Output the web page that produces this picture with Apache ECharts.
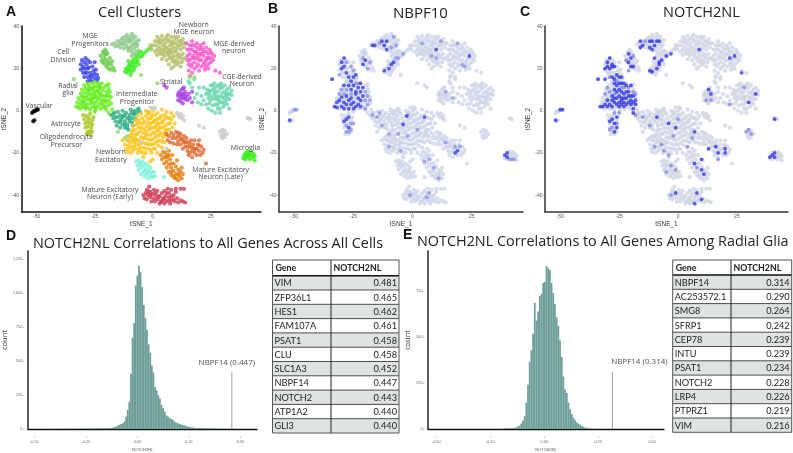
<!DOCTYPE html>
<html><head><meta charset="utf-8">
<style>html,body{margin:0;padding:0;background:#fff}#c{width:793px;height:453px}</style>
<script src="https://cdn.jsdelivr.net/npm/echarts@6/dist/echarts.min.js"></script></head>
<body><div id="c"></div>
<script>
const mgeProgenitorA=[[-17.5,31.5],[-16.5,32],[-16,30.5],[-15,31],[-15,33],[-14,32],[-14,30],[-13.5,33.5],[-13,31.5],[-12.5,29.5],[-12,33],[-12,35],[-11.5,31],[-11,34],[-11,36],[-10.5,32.5],[-10,30],[-10,35],[-9.5,33],[-9,36.5],[-9,31],[-9,28],[-8.5,34],[-8,32],[-8,29.5],[-7.5,35],[-7,33],[-7,30.5],[-6.5,31.5],[-6,28.5],[-10.5,28.5],[-8,27],[-13,34.5],[-9.5,29.5],[-6,33.5],[-11,30],[-12.5,32],[-8.5,35.5],[-7.5,31.5],[-10,33.5],[-9,26],[-7,28]];
const mgeProgenitorB=[[-22.5,26],[-22,24],[-21.5,28],[-21,25],[-21,22.5],[-20.5,29],[-20.5,26.5],[-20,24],[-20,21],[-19.5,27],[-19,23],[-19,20],[-18.5,25],[-18,22],[-18,19.5],[-17,20.5],[-17.5,23.5],[-16.5,19],[-21.5,23],[-20,28],[-19.5,22],[-21,27]];
const mgeStream=[[-12,18.5],[-11.5,20],[-11,18],[-10.5,21],[-10,19],[-10,22],[-9.5,20],[-9,18.5],[-9,23],[-8.5,21],[-8.5,24],[-8,19.5],[-8,22.5],[-7.5,25],[-7,23],[-7,26],[-6.5,24],[-6,27],[-5.5,25.5],[-5,28],[-4.5,26],[-4,27],[-3,28],[-2,29],[-1,30],[-9.5,17],[-10.5,23.5],[-6,22],[-11,19.5],[-9.5,21.5],[-7.5,21]];
const newbornMge=[[1,33],[1.5,31],[2,35],[2,29],[3,34],[3,32],[3,30],[3.5,27],[4,35.5],[4,33],[4,29],[4.5,31],[5,34],[5,26],[5,28.5],[5.5,32],[6,30],[6,35],[6,24],[6.5,27],[7,33],[7,29],[7,22],[7.5,31],[7.5,25],[8,35],[8,27.5],[8.5,33],[8.5,23.5],[9,30],[9,26],[9,21],[9.5,28],[10,34],[10,32],[10,24],[10.5,30],[10.5,22],[11,27],[11,35],[11.5,33],[11.5,25],[12,29],[12,31],[12.5,23],[13,27],[13,34],[13.5,30],[0,31],[-0.5,29],[-1,31],[1,28],[2,26.5],[4,24.5],[14,25],[14,32],[8,20],[6.5,36],[12,21],[2.5,33],[3,28],[4.5,27],[5.5,30],[6,28],[6.5,33.5],[7,26],[7.5,28],[8,31.5],[8,29],[8.5,25],[9,32],[9.5,23],[9.5,35],[10,28.5],[10.5,26],[11,31],[11,23],[12,33],[12,26],[13,24.5],[13,32]];
const mgeNeuron=[[14.5,32],[15,29],[15,26],[15.5,22],[15.5,19],[16,31],[16,27],[16,24],[16.5,21],[17,33],[17,29],[17,18],[17.5,26],[18,31],[18,23],[18,20],[18.5,28],[19,25],[19,32],[19.5,22],[20,29],[20,19],[20.5,27],[20.5,31],[21,24],[21,21],[21.5,29],[22,26],[22,32],[22.5,23],[22.5,19.5],[23,28],[23,30],[23.5,25],[24,22],[24,27],[24.5,29],[25,25],[25,23],[25.5,27],[26,24],[26.5,26],[21,27],[19,27],[17,22],[24,20],[27,19],[29,18],[16,16.5],[15,24],[16,29],[17,25],[17,31],[18,28],[18,25],[19,30],[19,21],[20,24],[20,26],[21,30],[22,28],[22,22],[23,24],[23,21],[24,25],[25,28]];
const cellDivision=[[-31,22],[-31,19.5],[-30.5,24],[-30,21],[-30,18],[-29.5,23],[-29.5,16],[-29,25],[-29,20],[-28.5,22],[-28.5,18],[-28,24],[-28,16],[-27.5,20.5],[-27,23],[-27,18],[-27,14.5],[-26.5,16],[-26,21],[-26,17],[-26,14],[-25.5,19],[-25,15.5],[-25,23],[-24,17],[-24,14.5],[-23.5,15.5],[-28,14],[-24.5,19.5],[-30,20],[-29,18],[-28,20],[-27,16.5],[-25,17.5]];
const radialGlia=[[-33,2],[-32.5,4],[-32,1.5],[-32,6],[-31.5,3],[-31,8],[-31,5],[-31,1],[-30.5,10],[-30.5,3.5],[-30,6.5],[-30,2],[-29.5,12],[-29.5,8.5],[-29.5,4.5],[-29,1],[-29,10.5],[-28.5,7],[-28.5,3],[-28,13],[-28,5.5],[-28,1.5],[-27.5,9.5],[-27.5,12],[-27,7.5],[-27,3.5],[-27,0.5],[-26.5,10.5],[-26.5,5],[-26,13],[-26,8],[-26,2],[-25.5,11],[-25.5,6],[-25,13.5],[-25,3.5],[-25,9],[-24.5,0.5],[-24.5,7],[-24,11.5],[-24,4.5],[-24,2],[-23.5,9],[-23.5,13],[-23,6],[-23,3],[-22.5,11],[-22.5,1],[-22.5,8],[-22,13],[-22,5],[-21.5,9.5],[-21.5,3],[-21,7],[-21,11],[-20.5,5],[-20.5,2],[-20,9],[-20,12],[-19.5,7],[-19,5],[-19,2.5],[-18.5,9],[-19,12.5],[-18,3.5],[-18,6.5],[-20,0.5],[-17.5,0.5],[-28,8.5],[-25,-0.5],[-30.5,7],[-30,4],[-29,6],[-29,2.5],[-28,10],[-27,5.5],[-27,11],[-26,6],[-26,10],[-26,4],[-25,7.5],[-25,11.5],[-25,1.5],[-24,9.5],[-24,6],[-23,10.5],[-23,12],[-23,8],[-22,7],[-22,3.5],[-21,5],[-21,1.5],[-20,7],[-20,4],[-19,10.5],[-19,7.5]];
const astrocyte=[[-30,-2],[-29.5,-4],[-29,-6],[-28.5,-2.5],[-28,-5],[-28,-7.5],[-27.5,-3.5],[-27,-6],[-27,-1.5],[-26.5,-8],[-26,-4.5],[-26,-6.5],[-25.5,-3],[-29,-8],[-28,-10],[-27,-9.5],[-28.5,-11],[-27,-11],[-26,-10]];
const vascular=[[-52,-1],[-51.5,-0.5],[-51,0],[-50.5,0],[-50,0.5],[-49.5,0.5],[-51,-4.5],[-51.5,-5]];
const striatal=[[11,5],[11,7],[11.5,9],[12,6],[12,4.5],[12.5,8],[12.5,10],[13,6],[13,3.5],[13.5,8],[13.5,11],[14,5.5],[14,9],[14.5,7],[15,5],[15.5,8],[16,6],[11,8],[17,9],[17,4],[13,10.5],[5,12],[6,11],[12,7.5],[13,7.5],[14,6.5]];
const cgeNeuron=[[22,5],[23,8],[23,3],[23.5,10],[24,6],[24,1],[24.5,9],[24.5,3.5],[25,12],[25,7],[25,5],[25.5,0],[26,10],[26,2.5],[26.5,8],[26.5,13],[27,5.5],[27,11],[27,-1],[27.5,7],[28,9],[28,3],[28,12],[28.5,5],[29,10.5],[29,7],[29,1],[29.5,13],[30,8.5],[30,4],[30,11],[30.5,6],[30.5,2],[31,9],[31,12],[31.5,5],[31.5,7.5],[32,10],[32,3],[33,8],[33,5.5],[33,11],[34,7.5],[34,9.5],[17,11],[18,6],[19,8],[19.5,4],[20,11],[21,7],[21,3],[16,13],[18,15],[15.5,14],[22,11],[33,1],[29,-1],[-2,-0.5],[25,9.5],[26,6],[27,3],[27,9],[28,6],[28,1],[29,4],[29,12],[30,6.5],[31,3.5],[32,6.5],[32,8],[26,12],[24,8]];
const intermediate=[[-18,-2],[-17,-3.5],[-16.5,-1],[-16,-5],[-15.5,-7],[-15,-3],[-15,-0.5],[-14.5,-5.5],[-14,-8],[-14,-2],[-13.5,-4],[-13,-6.5],[-13,0],[-12.5,-2.5],[-12,-5],[-12,-8],[-11.5,-1],[-11,-3.5],[-11,-6.5],[-10.5,-9],[-10,-2],[-10,-5],[-9.5,0.5],[-9,-3.5],[-9,-1],[-8.5,-7],[-8,-2],[-8,0],[-7.5,-4],[-7,-1],[-6.5,0.5],[-6,1],[-5.5,-0.5],[-16,-3],[-14,-5],[-13,-3],[-12,-2],[-12,-6.5],[-11,-8],[-10,-3.5],[-9,-5.5],[-8,-1],[-17,-1.5]];
const newbornExc=[[-12,-16],[-11.5,-18],[-11,-14],[-11,-19.5],[-10.5,-16.5],[-10,-12],[-10,-18],[-9.5,-15],[-9.5,-20],[-9,-10],[-9,-13],[-9,-17],[-8.5,-7],[-8.5,-19],[-8,-11.5],[-8,-15],[-7.5,-4.5],[-7.5,-9],[-7.5,-13],[-7.5,-18],[-7,-6.5],[-7,-16],[-6.5,-11],[-6.5,-2.5],[-6.5,-20],[-6,-8],[-6,-14],[-6,-4.5],[-5.5,-17.5],[-5.5,-10],[-5,-1.5],[-5,-6],[-5,-12.5],[-5,-19.5],[-4.5,-15],[-4.5,-3.5],[-4,-8.5],[-4,-17.5],[-4,-10.5],[-3.5,-13],[-3.5,-5],[-3,0],[-3,-2.5],[-3,-20],[-3,-15.5],[-2.5,-7.5],[-2.5,-11],[-2,-4],[-2,-18],[-2,-13.5],[-1.5,-1],[-1.5,-9],[-1,-6],[-1,-16],[-1,-11.5],[-0.5,-3],[-0.5,-20],[0,0],[0,-8],[0,-13.5],[0.5,-5],[0.5,-18],[1,-2],[1,-10.5],[1,-15.5],[1.5,-7],[2,-1],[2,-4],[2,-12],[2,-20],[2.5,-9],[2.5,-16.5],[3,-6],[3,-14],[3.5,-2.5],[3.5,-10.5],[4,-8],[4,0.5],[4,-17.5],[4.5,-5],[4.5,-12.5],[5,-2],[5,-15],[5.5,-9.5],[6,-6.5],[6,-0.5],[6,-12],[7,-3.5],[7,-9],[7.5,-6],[8,-1],[8,-4],[8.5,-8],[9,-2.5],[9.5,-6],[-4,-22],[-1,-24],[0,-23],[-13,-14],[-10.5,-14],[-9.5,-11.5],[-8.5,-9],[-8.5,-14],[-8,-17],[-7,-11],[-7,-14],[-6.5,-6],[-6,-16],[-6,-18.5],[-5,-8],[-5,-15.5],[-4,-6],[-4,-13],[-4,-20],[-3,-9.5],[-3,-12],[-3,-18],[-2,-6],[-2,-16],[-2,-1.5],[-1,-3.5],[-1,-8],[-1,-14],[-1,-18.5],[0,-5.5],[0,-10.5],[0,-16],[0,-2],[1,-4.5],[1,-8],[1,-12.5],[1,-18],[2,-6],[2,-9.5],[2,-14.5],[3,-3.5],[3,-8],[3,-11.5],[4,-5.5],[4,-14.5],[5,-7.5],[5,-11],[5,-4],[6,-3],[6,-9],[7,-6]];
const matureLate=[[6,-11],[6.5,-14],[7,-12],[7.5,-15],[8,-10.5],[8.5,-13],[9,-11.5],[9,-15.5],[10,-13],[10,-10],[10.5,-16],[11,-12],[11,-14.5],[12,-11],[12,-16],[12.5,-13.5],[13,-18],[13.5,-15],[13.5,-12],[14,-17],[14.5,-13],[15,-19],[15,-15],[15.5,-21],[16,-17],[16.5,-14],[17,-19],[17,-22],[17.5,-16],[18,-20],[18,-14],[18.5,-18],[19,-21],[19.5,-16],[20,-19],[20,-14],[20.5,-21],[21,-17],[21.5,-20],[22,-18.5],[23,-25],[11,-10.5],[12,-13],[14,-15],[15,-17],[16,-15.5],[17,-17.5],[18,-18],[19,-18],[20,-16.5],[13,-14],[16,-20]];
const matureOrange=[[3.5,-21],[4,-23],[4.5,-19.5],[5,-22],[5,-25],[5.5,-20],[6,-24],[6,-27],[6.5,-21.5],[7,-19],[7,-25.5],[7,-29],[7.5,-23],[8,-27],[8,-30.5],[8.5,-21],[9,-25],[9,-28.5],[9.5,-32],[10,-26.5],[10,-30],[10.5,-23.5],[11,-28],[11,-33],[11.5,-31],[12,-29],[12.5,-32],[12.5,-27],[13,-30],[6,-22],[8,-25],[8,-29],[9,-31],[10,-32],[11,-30],[7,-21]];
const aqua=[[-7,-24],[-6.5,-26],[-6,-23.5],[-6,-28],[-5.5,-25],[-5,-27],[-5,-30],[-4.5,-24],[-4,-26],[-4,-29],[-3.5,-31],[-3,-25],[-3,-27.5],[-2.5,-30],[-2,-26],[-2,-32],[-1.5,-28.5],[-1,-31],[-1,-27],[-0.5,-29.5],[0,-31.5],[0.5,-29],[1,-31],[5,-31.5],[-5,-25.5],[-3.5,-28.5],[-2,-29]];
const matureEarly=[[-4,-40],[-3.5,-41.5],[-3,-39],[-2.5,-37.5],[-2.5,-42],[-2,-40],[-1.5,-36],[-1,-38.5],[-1,-41],[-0.5,-43],[0,-39.5],[0.5,-37.5],[0.5,-41.5],[1,-43],[1.5,-40],[2,-38],[2,-42],[3,-44],[3,-40.5],[3.5,-43],[4,-39],[4.5,-41.5],[5,-38],[5,-44],[5.5,-40.5],[6,-43],[6.5,-37],[7,-41],[7,-39],[7.5,-44],[8,-42.5],[8,-37.5],[9,-40],[9.5,-43],[10,-38.5],[10.5,-41.5],[11,-43.5],[12,-42.5],[13,-43],[14,-43.5],[10,-37],[12,-37],[13.5,-37],[-2,-38.5],[-1,-40],[1,-39],[2.5,-41],[4,-43],[6,-39],[7,-42.5],[8,-40.5],[9,-42],[5,-42]];
const microglia=[[39,-22.5],[39.5,-21],[40,-23],[40,-20],[40.5,-21.5],[41,-19.5],[41,-22],[41.5,-20.5],[42,-23],[42,-21],[42.5,-19.5],[43,-22],[43.5,-20.5],[44,-23.5],[44,-21.5]];
const grayCells=[[10.5,-1],[11,-2],[11.5,-3],[12,-1.5],[12.5,-3.5],[13,-2.5],[13.5,-4.5],[29,-10],[29.5,-12],[30,-9],[30,-13],[30.5,-11],[31,-9.5],[31,-12.5],[32,-11],[41,-3.5],[42,-4],[-1,1.5],[0.5,1.5],[1,1],[-5,-15],[6,-18],[20,-7],[22,-8]];
const stray=[[-34,15],[-5,17],[2,13],[16,16],[18,16],[-19,-1],[-15,-10],[-11,-12],[-12,-13]];

const clusterGroups=[
 {name:"mgeProgenitorA",pts:mgeProgenitorA,color:"#8fcb8c"},
 {name:"mgeProgenitorB",pts:mgeProgenitorB,color:"#66cc4a"},
 {name:"mgeStream",pts:mgeStream,color:"#3cee22"},
 {name:"newbornMge",pts:newbornMge,color:"#b5bd68"},
 {name:"mgeNeuron",pts:mgeNeuron,color:"#f757c9"},
 {name:"cellDivision",pts:cellDivision,color:"#3b44ee"},
 {name:"radialGlia",pts:radialGlia,color:"#66ee1e"},
 {name:"astrocyte",pts:astrocyte,color:"#a5c61c"},
 {name:"vascular",pts:vascular,color:"#000000"},
 {name:"striatal",pts:striatal,color:"#a844e6"},
 {name:"cgeNeuron",pts:cgeNeuron,color:"#66d6ac"},
 {name:"intermediate",pts:intermediate,color:"#2fae86"},
 {name:"newbornExc",pts:newbornExc,color:"#fbc51c"},
 {name:"matureLate",pts:matureLate,color:"#dc682e"},
 {name:"matureOrange",pts:matureOrange,color:"#e0800f"},
 {name:"aqua",pts:aqua,color:"#7df2d9"},
 {name:"matureEarly",pts:matureEarly,color:"#d03c55"},
 {name:"microglia",pts:microglia,color:"#33ee11"},
 {name:"grayCells",pts:grayCells,color:"#c5c9c5"},
 {name:"stray",pts:stray,color:"#8fd860"}
];

const clusterLabels=[["Newborn\nMGE neuron",17.7,39],["MGE\nProgenitors",-27,33.5],["MGE-derived\nneuron",35,30],["Cell\nDivision",-38.6,26],["Striatal",8,13.6],["CGE-derived\nNeuron",38.5,14.4],["Radial\nglia",-36.5,10],["Intermediate\nProgenitor",-6.8,6],["Vascular",-49,2.2],["Astrocyte",-37.5,-6.2],["Oligodendrocyte\nPrecursor",-37.2,-14.4],["Newborn\nExcitatory",-18,-21.5],["Microglia",40,-17.7],["Mature Excitatory\nNeuron (Late)",29.3,-29.7],["Mature Excitatory\nNeuron (Early)",-18.4,-39.2]];

const nbpf10Strong=[[-34,15],[-30,23],[-30,20],[-29,25],[-29,21],[-28,18],[-27,16],[-26,14],[-25,16],[-24,17],[-29,12],[-27,12],[-26,10],[-25,12],[-24,9],[-23,11],[-22,13],[-22,9],[-21,7],[-21,11],[-33,2],[-32,4],[-32,1.5],[-31,5],[-30,2],[-30,6.5],[-29,4],[-29,1],[-28,7],[-28,3],[-27,5],[-27,1],[-26,3],[-26,6],[-25,1],[-25,4],[-24,8],[-24,2],[-23,6],[-23,3],[-22,2],[-22,5],[-28,-4],[-29,-5],[-27,-3],[-52,-4.5],[-11,29],[-11,33],[-12,31],[-16,31],[-12,19],[-10,20],[-9,22],[-8,23],[-2.5,-2.5],[-4,-6.5],[5,-3],[-27,-8],[18,-20],[19,-19],[39,-21],[40,-20],[40,-22],[10,29],[24,26],[-21,22],[-20,24],[-17,31],[-13,33]];
const nbpf10Light=[[-31,17],[-28,23],[-26,21],[-25,19],[-30,10],[-28,10],[-26,8],[-24,13],[-23,13],[-20,5],[-20,9],[-19,7],[-19,3],[-20,1],[-18,5],[-31,8],[-29,8],[-26,-6],[-27,-10],[-28,-10],[-26,-9],[-25,-6],[-28,-7],[-50,0.5],[-49,0.5],[-15,-3],[-17,-2],[-13,-7],[-14,-1],[-10,-11],[-10,-17],[-5,-19],[-2,-12],[-9,30],[-8,35],[-7,31],[-14,32],[-7,25],[-6,25],[-4,27],[-21,25],[-19,20],[-18,23],[4,32],[8,26],[10,25],[12,33],[21,22],[19,32],[22,21],[14,-15],[20,-17],[18,-17],[42,-23],[43,-23],[41,-23],[9,-27],[11,-32],[7,-23],[7,-39],[6,-41],[-1,-40],[17,6],[14,9],[-2,-2],[-6,-11],[2,-9],[5,-24]];
const notch2Strong=[[-34,15],[-31,20],[-30,21],[-30,23],[-29,20],[-29,25],[-28,21],[-28,22],[-27,21],[-31,15],[-28,16],[-27,15],[-26,17],[-25,16],[-24,16],[-27,13],[-26,12],[-25,13],[-24,13],[-23,13],[-22,12],[-20,12],[-27,10],[-26,9],[-25,10],[-25,7],[-24,9],[-24,6],[-23,8],[-23,6],[-22,9],[-22,6],[-21,9],[-21,7],[-20,7],[-20,5],[-19,7],[-19,4],[-18,5],[-18,3],[-33,2],[-32,2],[-31,3],[-30,5],[-30,2],[-29,3],[-28,7],[-28,5],[-28,2],[-27,6],[-27,4],[-26,6],[-26,3],[-25,4],[-25,2],[-24,5],[-24,3],[-23,4],[-23,2],[-22,3],[-21,4],[-20,3],[-19,1],[-28,-4],[-29,-5],[-27,-6],[-26,-3],[-27,-10],[-26,-8],[-19,-1],[-52,-4.5],[-50,0.5],[-49,0.5],[-16,33],[-15,31],[-16,30],[-12,33],[-11,33],[-12,30],[-10,31],[-9,33],[-8,33],[-11,29],[-10,25],[-12,19],[-11,18.5],[-9,20],[-8,22],[-8,23],[-7,24],[-5,26],[-3,27],[-21,27],[-20,25],[-21,23],[-20,21],[-19,21],[24,26],[22,25],[27,18],[30,4],[33,8],[41,-4],[39,-22],[40,-21],[41,-20],[41,-22],[-9,-3],[-4,-6],[-1,-8],[7,-10],[13,-18],[16,-17],[17,-20],[20,-18],[20,-20],[10,-23],[7,-25],[10,-28],[11,-30],[8,-39],[10,-42],[7,-44],[-1,-39],[9,29],[13,10],[14,8]];
const notch2Light=[[-29,16],[-26,14],[-23,11],[-21,11],[-19,9],[-18,8],[-31,8],[-29,9],[-30,11],[-27,8],[-24,11],[-27,-1],[-25,-1],[-28,-8],[-26,-6],[-29,-9],[-18,-2],[-15,-3],[-12,-7],[-10,-17],[-7,-16],[-6,-19],[-4,-21],[-2,-12],[0,-4],[4,-17],[6,-13],[-3,-26],[-1,-28],[-5,-29],[8,-27],[-3,-40],[29,-10],[30,-9],[31,-11],[12,5],[14,5],[17,-23],[28,11],[22,3],[-21,19],[-22,24],[-19,26],[-14,33]];

const histDStart=-0.4057, histDWidth=0.0078;
const histDCounts=[1,1,1,1,1,1,1,2,1,2,2,2,3,2,2,3,3,2,3,4,3,3,4,4,4,5,4,5,5,6,5,6,6,7,6,7,9,12,15,19,25,31,37,43,55,92,140,200,405,670,778,1055,1128,1200,1152,1043,911,814,730,622,561,465,417,308,284,248,224,176,152,128,100,92,80,75,67,55,48,43,38,34,30,27,23,19,16,14,12,10,8,7,7,7,6,6,5,4,4,4,3,4,3,3,3,2,3,2,2,2,2,1,2,1,1,1];
const histEStart=-0.184, histEWidth=0.0078;
const histECounts=[2,2,3,3,4,5,6,9,13,18,30,45,70,143,241,366,429,518,687,590,640,723,735,795,800,887,875,866,795,741,679,607,562,482,393,286,214,196,143,107,80,62,48,36,28,23,16,12,9,6,4,3,2];
const annotD=["NBPF14 (0.447)",0.458,417], annotE=["NBPF14 (0.314)",0.316,310];
const tsneXTicks=[-50,-25,0,25], tsneYTicks=[-40,-20,0,20,40], corrXTicks=[-0.5,-0.25,0,0.25,0.5], histDYTicks=[0,250,500,750,1000,1250], histEYTicks=[0,250,500,750];

const tableDGenes=["VIM","ZFP36L1","HES1","FAM107A","PSAT1","CLU","SLC1A3","NBPF14","NOTCH2","ATP1A2","GLI3"];
const tableDVals=["0.481","0.465","0.462","0.461","0.458","0.458","0.452","0.447","0.443","0.440","0.440"];
const tableEGenes=["NBPF14","AC253572.1","SMG8","SFRP1","CEP78","INTU","PSAT1","NOTCH2","LRP4","PTPRZ1","VIM"];
const tableEVals=["0.314","0.290","0.264","0.242","0.239","0.239","0.234","0.228","0.226","0.219","0.216"];

const FONT='"Open Sans",sans-serif';
const grids=[
 {left:18,top:26,width:243,height:186},
 {left:279,top:26,width:244,height:186},
 {left:545,top:26,width:243,height:186},
 {left:20,top:251,width:237,height:181},
 {left:428,top:251,width:236,height:181}];
const tsneX=i=>({type:'value',gridIndex:i,min:-56.5,max:46.7,splitLine:{show:false},name:'tSNE_1',nameLocation:'middle',nameGap:7,
 nameTextStyle:{fontSize:6.5,color:'#333',fontFamily:'"Liberation Sans"'},
 axisLine:{onZero:false,lineStyle:{color:i==0?'#111':'#333',width:1.5}},
 axisTick:{customValues:tsneXTicks,length:1.5,lineStyle:{color:'#666',width:0.6}},
 axisLabel:{customValues:tsneXTicks,fontSize:5,color:'#555',margin:2.5,fontFamily:'"Liberation Sans"'}});
const tsneY=i=>({type:'value',gridIndex:i,min:-48,max:40.2,splitLine:{show:false},name:'tSNE_2',nameLocation:'middle',nameGap:i==1?13:11,
 nameTextStyle:{fontSize:6.5,color:'#333',fontFamily:'"Liberation Sans"'},
 axisLine:{onZero:false,lineStyle:{color:i==0?'#111':'#333',width:1.5}},
 axisTick:{customValues:tsneYTicks,length:1.5,lineStyle:{color:'#666',width:0.6}},
 axisLabel:{customValues:tsneYTicks,fontSize:5,color:'#555',margin:2.5,fontFamily:'"Liberation Sans"'}});
const histX=(i,min,max)=>({type:'value',gridIndex:i,min,max,splitLine:{show:false},
 axisLine:{onZero:false,lineStyle:{color:'#111',width:1.3}},axisTick:{show:false},axisLabel:{show:false}});
const histXTicks=(i,min,max)=>({type:'value',gridIndex:i,min,max,position:'bottom',offset:7,splitLine:{show:false},name:'NOTCH2NL',nameLocation:'middle',nameGap:12,
 nameTextStyle:{fontSize:4,color:'#555',fontFamily:'"Liberation Sans"'},
 axisLine:{show:false,onZero:false},
 axisTick:{show:true,customValues:corrXTicks,length:1.5,lineStyle:{color:'#777',width:0.5}},
 axisLabel:{customValues:corrXTicks,fontSize:3.8,color:'#666',margin:4,formatter:v=>v.toFixed(2),fontFamily:'"Liberation Sans"'}});
const histY=(i,max,ticks,gap)=>({type:'value',gridIndex:i,min:0,max,position:'left',offset:3.5,splitLine:{show:false},name:'count',nameLocation:'middle',nameGap:gap,
 nameTextStyle:{fontSize:7.5,color:'#333',fontFamily:FONT},
 axisLine:{show:false,onZero:false},
 axisTick:{show:true,customValues:ticks,length:1.5,lineStyle:{color:'#777',width:0.5}},
 axisLabel:{customValues:ticks,fontSize:3.8,color:'#666',margin:2,fontFamily:'"Liberation Sans"'}});
const histYLine=(i,max)=>({type:'value',gridIndex:i,min:0,max,position:'left',splitLine:{show:false},
 axisLine:{show:true,onZero:false,lineStyle:{color:'#333',width:1.6}},axisTick:{show:false},axisLabel:{show:false}});

const series=[];
const dots=(i,name,pts,color,size)=>series.push({type:'scatter',name,xAxisIndex:i,yAxisIndex:i,data:pts,symbolSize:size,itemStyle:{color},silent:true,animation:false});
clusterGroups.forEach(g=>dots(0,g.name,g.pts,g.color,4.2));
series.push({type:'scatter',name:'labels',xAxisIndex:0,yAxisIndex:0,symbolSize:0,silent:true,animation:false,z:5,
 data:clusterLabels.map(l=>({value:[l[1],l[2]],name:l[0]})),
 label:{show:true,position:'inside',formatter:p=>p.name,fontSize:6.9,lineHeight:7.6,color:'#111',fontFamily:FONT,align:'center',verticalAlign:'middle'}});
const allCells=clusterGroups.flatMap(g=>g.pts);
dots(1,'base',allCells,'#cdd4e8',4.2);
dots(1,'light',nbpf10Light,'#8d93e6',3.8);
dots(1,'strong',nbpf10Strong,'#3a3ee0',3.8);
dots(2,'base',allCells,'#d0d5e3',4.2);
dots(2,'light',notch2Light,'#8388e6',3.8);
dots(2,'strong',notch2Strong,'#3338e4',3.8);
const hist=(i,start,w,counts,ann,lab)=>{
 series.push({type:'bar',xAxisIndex:i,yAxisIndex:i,barWidth:1.75,animation:false,silent:true,
  data:counts.map((c,k)=>[start+k*w,c]),itemStyle:{color:'#6d9f98'}});
 series.push({type:'line',xAxisIndex:i,yAxisIndex:i,symbol:'none',animation:false,silent:true,lineStyle:{color:'#888',width:0.8},
  data:[[ann[1],0],[ann[1],ann[2]]]});
 series.push({type:'scatter',xAxisIndex:i,yAxisIndex:i,symbolSize:0,animation:false,silent:true,z:5,
  data:[{value:[ann[1],ann[2]],name:ann[0]}],
  label:Object.assign({show:true,formatter:p=>p.name,position:'top',fontSize:8,color:'#222',fontFamily:FONT},lab)});
};
hist(3,histDStart,histDWidth,histDCounts,annotD,{offset:[-5,-1]});
hist(4,histEStart,histEWidth,histECounts,annotE,{offset:[27,-1]});

const graphic=[];
function table(x0,x1,xc,yTop,yHead,rowH,genes,vals){
 const txt=(x,y,t,align,bold)=>graphic.push({type:'text',silent:true,x,y,style:{text:t,fill:'#222',font:bold?'bold 8.8px Lato':'9.2px Lato',textAlign:align,textVerticalAlign:'middle'}});
 const line=(a,b,c,d,w,col)=>graphic.push({type:'line',silent:true,shape:{x1:a,y1:b,x2:c,y2:d},style:{stroke:col||'#222',lineWidth:w}});
 genes.forEach((g,i)=>{
  const y=yHead+i*rowH;
  if(i%2==0) graphic.push({type:'rect',silent:true,shape:{x:x0,y,width:x1-x0,height:rowH},style:{fill:'#dfe4e2'}});
 });
 genes.forEach((g,i)=>{
  const y=yHead+i*rowH;
  txt(x0+2,y+rowH/2+.5,g,'left');
  txt(x1-2,y+rowH/2+.5,vals[i],'right');
  if(i>0) line(x0,y,x1,y,0.8,'#222');
 });
 txt(x0+3,(yTop+yHead)/2+.5,'Gene','left',true);
 txt(xc+2.5,(yTop+yHead)/2+.5,'NOTCH2NL','left',true);
 line(x0,yHead,x1,yHead,1.6,'#111');
 line(xc,yTop,xc,yHead+11*rowH,1,'#222');
 graphic.push({type:'rect',silent:true,shape:{x:x0,y:yTop,width:x1-x0,height:yHead+11*rowH-yTop},style:{fill:'none',stroke:'#555',lineWidth:1}});
}
table(272.5,399,331,260,275.7,14.3,tableDGenes,tableDVals);
table(672.7,791.7,731,260,275,14.3,tableEGenes,tableEVals);

const panelT=(text,x,y)=>({text,left:x,top:y,padding:0,textStyle:{fontSize:14,fontWeight:'bold',color:'#111',fontFamily:'"Liberation Sans"',lineHeight:14}});
const headT=(text,x,y,size)=>({text,left:x,top:y,padding:0,textStyle:{fontSize:size,fontWeight:'normal',color:'#222',fontFamily:FONT,lineHeight:size}});
const titles=[panelT('A',6,5),panelT('B',268,2),panelT('C',520,5),panelT('D',6,229),panelT('E',403,228),
 headT('Cell Clusters',98,6,14.5),headT('NBPF10',393,6,15),headT('NOTCH2NL',663,6,14.5),
 headT('NOTCH2NL Correlations to All Genes Across All Cells',33,237,14.45),
 headT('NOTCH2NL Correlations to All Genes Among Radial Glia',417,235,14.4)];

const chart=echarts.init(document.getElementById('c'),null,{renderer:'canvas'});
chart.setOption({animation:false,backgroundColor:'#fff',title:titles,grid:grids,
 xAxis:[tsneX(0),tsneX(1),tsneX(2),histX(3,-0.531,0.58),histX(4,-0.538,0.555),histXTicks(3,-0.531,0.58),histXTicks(4,-0.538,0.555)],
 yAxis:[tsneY(0),tsneY(1),tsneY(2),histYLine(3,1308),histYLine(4,969),histY(3,1308,histDYTicks,12),histY(4,969,histEYTicks,11.5)],
 series,graphic:{elements:graphic}});
</script></body></html>
